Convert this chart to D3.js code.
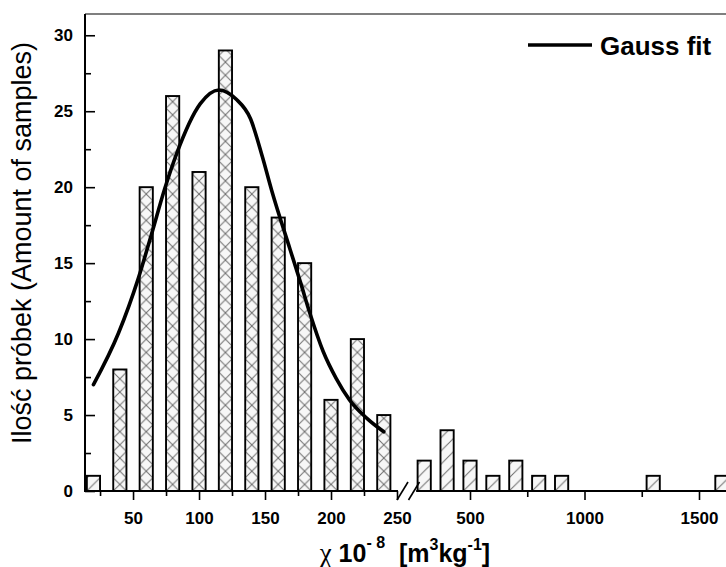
<!DOCTYPE html>
<html>
<head>
<meta charset="utf-8">
<script src="https://cdn.jsdelivr.net/npm/d3@7/dist/d3.min.js"></script>
<style>
body { margin: 0; background: #ffffff; }
text { font-family: Arial, "Liberation Sans", sans-serif; }
</style>
</head>
<body>
<script>
// histogram, linear part (below the axis break)
var leftCats = [20, 40, 60, 80, 100, 120, 140, 160, 180, 200, 220, 240];
var leftCounts = [1, 8, 20, 26, 21, 29, 20, 18, 15, 6, 10, 5];
// histogram, compressed part (after the break)
var rightCats = [300, 400, 500, 600, 700, 800, 900, 1300, 1600];
var rightCounts = [2, 4, 2, 1, 2, 1, 1, 1, 1];
// gauss fit
var gaussX = [20, 39, 54, 64, 74, 83, 101, 115, 128, 139, 148, 155, 169, 177, 184, 194, 204, 214, 227, 240];
var gaussY = [7.0, 10.4, 14.0, 16.9, 19.9, 22.2, 25.5, 26.4, 25.8, 24.5, 22.0, 19.8, 15.9, 13.7, 11.7, 9.2, 7.4, 6.0, 4.8, 3.9];
// ticks
var yTicks = [0, 5, 10, 15, 20, 25, 30];
var yMinor = [2.5, 7.5, 12.5, 17.5, 22.5, 27.5];
var xTicksLeft = [50, 100, 150, 200, 250];
var xMinorLeft = [25, 75, 125, 175, 225];
var xTicksRight = [500, 1000, 1500];
var xMinorRight = [750, 1250];

var W = 726, H = 567;
var svg = d3.select("body")
	.append("svg")
	.attr("width", W)
	.attr("height", H);

var xL = d3.scaleLinear().domain([13.6, 250]).range([85, 397]);
var xR = d3.scaleLinear().domain([500, 1500]).range([470, 699]);
var y = d3.scaleLinear().domain([0, 31.4]).range([491, 14]);
var barW = xL(30) - xL(20);
var rightStart = xR(265);

var defs = svg.append("defs");
function hatch (id, x0, cross) {
	var p = defs.append("pattern")
		.attr("id", id)
		.attr("patternUnits", "userSpaceOnUse")
		.attr("x", x0)
		.attr("y", y(0))
		.attr("width", barW)
		.attr("height", barW);
	p.append("rect")
		.attr("width", barW)
		.attr("height", barW)
		.attr("fill", "#f7f7f7");
	p.append("path")
		.attr("d", "M0," + barW + "L" + barW + ",0")
		.attr("stroke", "#6e6e6e")
		.attr("stroke-width", 1);
	if (cross) {
		p.append("path")
			.attr("d", "M0,0L" + barW + "," + barW)
			.attr("stroke", "#6e6e6e")
			.attr("stroke-width", 1);
	}
}

// bars
var leftData = leftCats.map(function (c, i) { return { c: c, v: leftCounts[i], cross: i > 0 }; });
leftData.forEach(function (d, i) {
	hatch("hl" + i, xL(d.c) - barW / 2, d.cross);
});
svg.append("g")
	.selectAll("rect")
	.data(leftData)
	.enter()
	.append("rect")
	.attr("x", function (d) { return xL(d.c) - barW / 2; })
	.attr("y", function (d) { return y(d.v); })
	.attr("width", barW)
	.attr("height", function (d) { return y(0) - y(d.v); })
	.attr("fill", function (d, i) { return "url(#hl" + i + ")"; })
	.attr("stroke", "#000")
	.attr("stroke-width", 1.9);

var rightData = rightCats.map(function (c, i) { return { c: c, v: rightCounts[i] }; });
rightData.forEach(function (d, i) {
	hatch("hr" + i, xR(d.c) - barW / 2, false);
});
svg.append("g")
	.selectAll("rect")
	.data(rightData)
	.enter()
	.append("rect")
	.attr("x", function (d) { return xR(d.c) - barW / 2; })
	.attr("y", function (d) { return y(d.v); })
	.attr("width", barW)
	.attr("height", function (d) { return y(0) - y(d.v); })
	.attr("fill", function (d, i) { return "url(#hr" + i + ")"; })
	.attr("stroke", "#000")
	.attr("stroke-width", 1.9);

// gauss curve
var line = d3.line()
	.x(function (d) { return xL(d[0]); })
	.y(function (d) { return y(d[1]); })
	.curve(d3.curveMonotoneX);
svg.append("path")
	.datum(gaussX.map(function (x, i) { return [x, gaussY[i]]; }))
	.attr("d", line)
	.attr("fill", "none")
	.attr("stroke", "#000")
	.attr("stroke-width", 3.6)
	.attr("stroke-linecap", "round");

// frame and axis lines
svg.append("line")
	.attr("x1", 85).attr("x2", W)
	.attr("y1", y.range()[1]).attr("y2", y.range()[1])
	.attr("stroke", "#555").attr("stroke-width", 1.4);
svg.append("line")
	.attr("x1", 85).attr("x2", 85)
	.attr("y1", y.range()[1]).attr("y2", y(0) + 1)
	.attr("stroke", "#000").attr("stroke-width", 2);
svg.append("line")
	.attr("x1", 84).attr("x2", xL(250) + 1)
	.attr("y1", y(0)).attr("y2", y(0))
	.attr("stroke", "#000").attr("stroke-width", 2);
svg.append("line")
	.attr("x1", rightStart).attr("x2", W)
	.attr("y1", y(0)).attr("y2", y(0))
	.attr("stroke", "#000").attr("stroke-width", 2);
// break marks
[0, 11.5].forEach(function (off) {
	svg.append("line")
		.attr("x1", xL(250) + off).attr("y1", y(0) + 9)
		.attr("x2", xL(250) + off + 11).attr("y2", y(0) - 9)
		.attr("stroke", "#000").attr("stroke-width", 1.6);
});

function styleAxis (g) {
	g.select(".domain").remove();
	g.selectAll(".tick line").attr("stroke", "#000").attr("stroke-width", 1.6);
	g.selectAll("text")
		.attr("fill", "#000")
		.style("font-size", "17px")
		.style("font-weight", "bold")
		.style("font-family", "Arial, 'Liberation Sans', sans-serif");
}

svg.append("g")
	.attr("transform", "translate(85,0)")
	.call(d3.axisLeft(y).tickValues(yTicks).tickSize(-10).tickPadding(12))
	.call(styleAxis);
svg.append("g")
	.attr("transform", "translate(85,0)")
	.call(d3.axisLeft(y).tickValues(yMinor).tickSize(-6).tickFormat(""))
	.call(styleAxis);

svg.append("g")
	.attr("transform", "translate(0," + y(0) + ")")
	.call(d3.axisBottom(xL).tickValues(xTicksLeft).tickSize(9).tickPadding(12).tickFormat(d3.format("d")))
	.call(styleAxis);
svg.append("g")
	.attr("transform", "translate(0," + y(0) + ")")
	.call(d3.axisBottom(xL).tickValues(xMinorLeft).tickSize(5).tickFormat(""))
	.call(styleAxis);
svg.append("g")
	.attr("transform", "translate(0," + y(0) + ")")
	.call(d3.axisBottom(xR).tickValues(xTicksRight).tickSize(9).tickPadding(12).tickFormat(d3.format("d")))
	.call(styleAxis);
svg.append("g")
	.attr("transform", "translate(0," + y(0) + ")")
	.call(d3.axisBottom(xR).tickValues(xMinorRight).tickSize(6).tickFormat(""))
	.call(styleAxis);

// legend
svg.append("line")
	.attr("x1", 528).attr("x2", 592)
	.attr("y1", 45).attr("y2", 45)
	.attr("stroke", "#000").attr("stroke-width", 3.6);
svg.append("text")
	.attr("x", 600)
	.attr("y", 55)
	.style("font-size", "26px")
	.style("font-weight", "bold")
	.text("Gauss fit");

// axis titles
svg.append("text")
	.attr("transform", "translate(31,243) rotate(-90)")
	.attr("text-anchor", "middle")
	.style("font-size", "27px")
	.text("Ilość próbek (Amount of samples)");

var xt = svg.append("text")
	.attr("x", 405)
	.attr("y", 562)
	.attr("text-anchor", "middle")
	.style("font-size", "25px")
	.style("font-weight", "bold");
xt.append("tspan")
	.style("font-family", "'Liberation Serif', 'Times New Roman', serif")
	.style("font-weight", "normal")
	.style("font-size", "27px")
	.text("χ ");
xt.append("tspan").text("10");
xt.append("tspan").attr("baseline-shift", "14").style("font-size", "16px").text("- 8");
xt.append("tspan").text("\u00a0 [m");
xt.append("tspan").attr("baseline-shift", "12").style("font-size", "16px").text("3");
xt.append("tspan").text("kg");
xt.append("tspan").attr("baseline-shift", "12").style("font-size", "16px").text("-1");
xt.append("tspan").text("]");
</script>
</body>
</html>
